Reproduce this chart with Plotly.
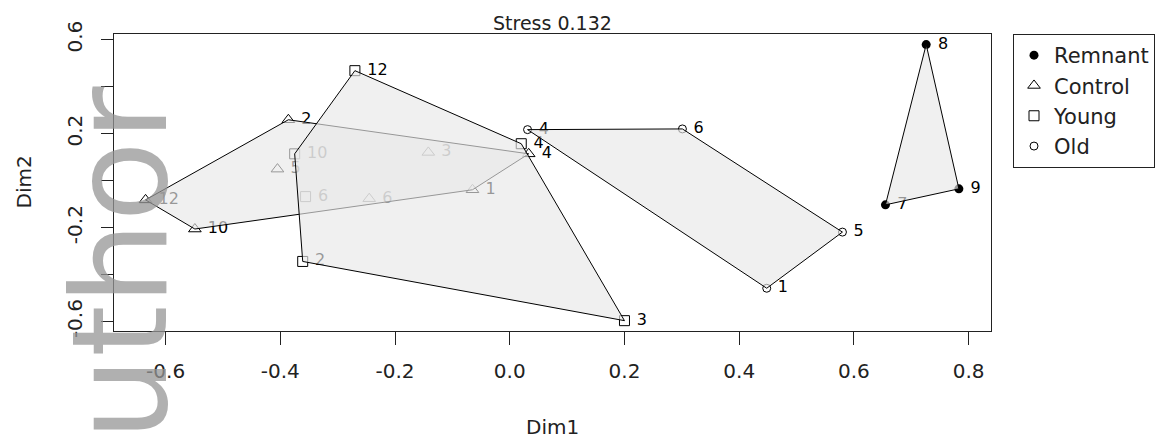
import plotly.graph_objects as go

# ---- data (NMDS scores) ----
groups = ["Remnant", "Control", "Young", "Old"]

remnant_ids = ["7", "8", "9"]
remnant_x = [0.655, 0.726, 0.783]
remnant_y = [-0.103, 0.579, -0.035]

control_ids = ["2", "12", "10", "5", "6", "3", "1", "4"]
control_x = [-0.386, -0.635, -0.549, -0.405, -0.245, -0.142, -0.065, 0.033]
control_y = [0.259, -0.082, -0.206, 0.049, -0.077, 0.120, -0.039, 0.114]

young_ids = ["12", "10", "6", "2", "3", "4"]
young_x = [-0.270, -0.375, -0.356, -0.361, 0.200, 0.020]
young_y = [0.468, 0.114, -0.068, -0.344, -0.596, 0.157]

old_ids = ["4", "6", "5", "1"]
old_x = [0.031, 0.301, 0.580, 0.448]
old_y = [0.217, 0.220, -0.219, -0.458]

x_ticks = [-0.6, -0.4, -0.2, 0.0, 0.2, 0.4, 0.6, 0.8]
x_ticktext = ["-0.6", "-0.4", "-0.2", "0.0", "0.2", "0.4", "0.6", "0.8"]
y_ticks = [-0.6, -0.4, -0.2, 0.0, 0.2, 0.4, 0.6]
y_ticktext = ["-0.6", "", "-0.2", "", "0.2", "", "0.6"]

title_text = "Stress 0.132"
watermark_words = ["Author", "Manuscript"]

FONT = "DejaVu Sans"

data = {
    "Remnant": (remnant_ids, remnant_x, remnant_y),
    "Control": (control_ids, control_x, control_y),
    "Young": (young_ids, young_x, young_y),
    "Old": (old_ids, old_x, old_y),
}
markers = {
    "Remnant": dict(symbol="circle", size=9, color="black"),
    "Control": dict(symbol="triangle-up-open", size=11, color="black", line=dict(width=1, color="black")),
    "Young": dict(symbol="square-open", size=10, color="black", line=dict(width=1, color="black")),
    "Old": dict(symbol="circle-open", size=8, color="black", line=dict(width=1, color="black")),
}


def convex_hull(xs, ys):
    pts = sorted(zip(xs, ys))

    def cross(o, a, b):
        return (a[0] - o[0]) * (b[1] - o[1]) - (a[1] - o[1]) * (b[0] - o[0])

    lower = []
    for p in pts:
        while len(lower) >= 2 and cross(lower[-2], lower[-1], p) <= 0:
            lower.pop()
        lower.append(p)
    upper = []
    for p in reversed(pts):
        while len(upper) >= 2 and cross(upper[-2], upper[-1], p) <= 0:
            upper.pop()
        upper.append(p)
    hull = lower[:-1] + upper[:-1]
    hull.append(hull[0])
    return [p[0] for p in hull], [p[1] for p in hull]


fig = go.Figure()

# points + labels first (hull fills are semi-transparent and drawn on top)
for g in groups:
    ids, xs, ys = data[g]
    fig.add_trace(go.Scatter(
        x=xs, y=ys, mode="markers+text", text=[" " + t for t in ids],
        textposition="middle right",
        textfont=dict(family=FONT, size=16, color="black"),
        marker=markers[g], showlegend=False, hoverinfo="skip", cliponaxis=False,
    ))

# hulls
for g in groups:
    ids, xs, ys = data[g]
    hx, hy = convex_hull(xs, ys)
    fig.add_trace(go.Scatter(
        x=hx, y=hy, mode="lines", fill="toself",
        fillcolor="rgba(232,232,232,0.65)",
        line=dict(color="black", width=1),
        showlegend=False, hoverinfo="skip",
    ))

# legend entries
for g in groups:
    fig.add_trace(go.Scatter(
        x=[None], y=[None], mode="markers", name=g, marker=markers[g],
    ))

wm_font = dict(family=FONT, size=132, color="rgba(150,150,150,0.75)")

fig.update_layout(
    width=1162, height=441,
    margin=dict(l=114, r=171, t=34, b=110, autoexpand=False),
    paper_bgcolor="white", plot_bgcolor="white",
    font=dict(family=FONT, color="#222222"),
    showlegend=True,
    legend=dict(
        x=1.0251, y=1.0, xanchor="left", yanchor="top",
        bordercolor="#222222", borderwidth=1, bgcolor="white",
        font=dict(family=FONT, size=21, color="#222222"),
        itemsizing="trace",
    ),
    xaxis=dict(
        range=[-0.690, 0.839], tickmode="array", tickvals=x_ticks, ticktext=x_ticktext,
        showgrid=False, zeroline=False, showline=True, linecolor="#222222", linewidth=1,
        mirror=True, ticks="outside", ticklen=13, tickcolor="#222222",
        tickfont=dict(family=FONT, size=20, color="#222222"), ticklabelstandoff=9,
    ),
    yaxis=dict(
        range=[-0.640, 0.624], tickmode="array", tickvals=y_ticks, ticktext=y_ticktext,
        showgrid=False, zeroline=False, showline=True, linecolor="#222222", linewidth=1,
        mirror=True, ticks="outside", ticklen=12, tickcolor="#222222", tickangle=-90,
        tickfont=dict(family=FONT, size=20, color="#222222"), ticklabelstandoff=11,
    ),
    annotations=[
        dict(text=title_text, xref="paper", yref="paper", x=0.5, y=1.0,
             xanchor="center", yanchor="bottom", yshift=-2, showarrow=False,
             font=dict(family=FONT, size=19, color="#222222")),
        dict(text="Dim1", xref="paper", yref="paper", x=0.5, y=0.0,
             xanchor="center", yanchor="middle", yshift=-96, showarrow=False,
             font=dict(family=FONT, size=20, color="#222222")),
        dict(text="Dim2", xref="paper", yref="paper", x=0.0, y=0.5,
             xanchor="center", yanchor="middle", xshift=-91, textangle=-90, showarrow=False,
             font=dict(family=FONT, size=20, color="#222222")),
        # faint publisher watermark (two words, rotated)
        dict(text=watermark_words[0], xref="paper", yref="paper",
             x=(120 - 114) / 877, y=(331 - 309) / 297,
             xanchor="center", yanchor="middle", textangle=-90, showarrow=False,
             font=wm_font),
        dict(text=watermark_words[1], xref="paper", yref="paper",
             x=(120 - 114) / 877, y=(331 - 14) / 297,
             xanchor="center", yanchor="bottom", textangle=-90, showarrow=False,
             font=wm_font),
    ],
)

fig.write_html("out.html")
